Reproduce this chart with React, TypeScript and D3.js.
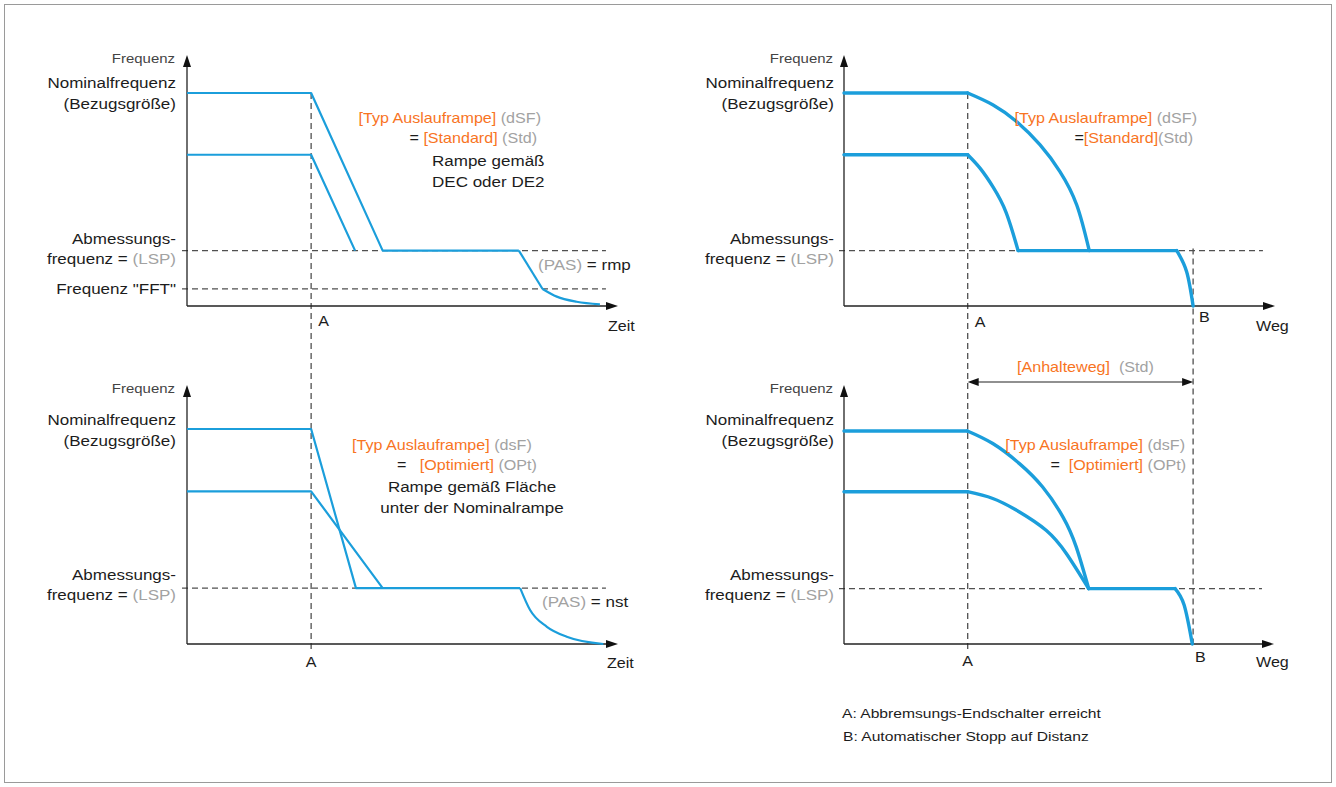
import React from 'react';
import * as d3 from 'd3';

// levels of the frequency axis, in % of nominal frequency
const LEVEL_NOMINAL = 100;
const LEVEL_REDUCED = 71;
const LEVEL_LSP = 26;
const LEVEL_FFT = 8;

// switch positions on the time / distance axes (% of axis length)
const POS_A_TIME = 28.8;
const POS_A_DIST = 28.7;
const POS_B_DIST = 81;
const DASH_END = 97.2;

// top left: [Standard], PAS = rmp
const stdNominal = [[0, 100], [28.8, 100], [45.4, 26], [77, 26]];
const stdReduced = [[0, LEVEL_REDUCED], [28.8, LEVEL_REDUCED], [39, 26]];
const stdTailRamp = [[77, 26], [82.5, 8]];
const stdTailCurve = [[82.5, 8], [85.8, 4.4], [90.4, 2], [95.8, 0.8]];

// bottom left: [Optimiert], PAS = nst
const optNominal = [[0, 100], [28.8, 100], [39.2, 26], [77.3, 26]];
const optReduced = [[0, LEVEL_REDUCED], [28.8, LEVEL_REDUCED], [45.4, 26]];
const optTail = [[77.3, 26], [79.6, 15.8], [83.5, 8], [88.1, 3.4], [96.6, 0]];

// top right: distance, [Standard]
const dStdFlatNominal = [[0, 100], [28.7, 100]];
const dStdFlatReduced = [[0, 71], [28.7, 71]];
const dStdCurveNominal = [[28.7, 100], [34.6, 94.4], [40.1, 86.5], [45.5, 75.6], [50.1, 63.1], [54, 47.4], [56.9, 26]];
const dStdCurveReduced = [[28.7, 71], [31.6, 64.6], [34.6, 55.8], [37.6, 44], [40.4, 26]];
const dStdFlatLsp = [[40.4, 26], [77.2, 26]];
const dStdTail = [[77.2, 26], [79.5, 16.1], [81, 0]];

// bottom right: distance, [Optimiert]
const dOptFlatNominal = [[0, 100], [28.7, 100]];
const dOptFlatReduced = [[0, 71.5], [28.7, 71.5]];
const dOptCurveNominal = [[28.7, 100], [34.6, 94.1], [40.8, 84.7], [46.2, 73.7], [50.9, 59.7], [54, 45.6], [56.9, 26]];
const dOptCurveReduced = [[28.7, 71.5], [34.6, 68.3], [40.8, 62], [47, 53.4], [51.7, 42.5], [56.9, 26]];
const dOptFlatLsp = [[56.9, 26], [77, 26]];
const dOptTail = [[77, 26], [79.1, 18.3], [81, 0]];

const BLUE = '#1b9edb';
const ORANGE = '#f8741f';
const CODE = '#a2a2a2';
const INK = '#1c1c1c';
const DASH = '#505050';
const SX = 1.15;
const FONT = '"Liberation Sans", Arial, sans-serif';

type P = number[];

function T({ x, y, anchor = 'start', size = 14.8, fill = INK, children }: any) {
  return (
    <text transform={`translate(${x},${y}) scale(${SX},1)`} textAnchor={anchor} fontSize={size} fill={fill}
      fontFamily={FONT} style={{ whiteSpace: 'pre' }}>
      {children}
    </text>
  );
}

function mk(x0: number, xTip: number, yBase: number, yNom: number, yTip: number) {
  const x = d3.scaleLinear().domain([0, 100]).range([x0, xTip]);
  const y = d3.scaleLinear().domain([0, 100]).range([yBase, yNom]);
  return { x, y, x0, xTip, yBase, yTip };
}

const tl = mk(187, 618, 306, 93, 55);
const bl = mk(187, 618, 644, 429, 385);
const tr = mk(844, 1275, 306, 93, 55);
const br = mk(844, 1274, 644, 431, 385);

function Axes({ p }: any) {
  const { x0, xTip, yBase, yTip } = p;
  return (
    <g>
      <line x1={x0} y1={yBase} x2={x0} y2={yTip + 8} stroke="#222" strokeWidth={1.3} />
      <path d={`M${x0},${yTip} L${x0 - 4},${yTip + 12} L${x0 + 4},${yTip + 12} Z`} fill="#111" />
      <line x1={x0} y1={yBase} x2={xTip - 8} y2={yBase} stroke="#222" strokeWidth={1.3} />
      <path d={`M${xTip},${yBase} L${xTip - 12},${yBase - 4} L${xTip - 12},${yBase + 4} Z`} fill="#111" />
    </g>
  );
}

function HDash({ p, level }: any) {
  return <line x1={p.x0 - 5} x2={p.x(DASH_END)} y1={p.y(level)} y2={p.y(level)}
    stroke={DASH} strokeWidth={1.3} strokeDasharray="6 4" />;
}

function YLabels({ right, yFreq, yNom, yAbm }: any) {
  return (
    <g>
      <T x={right - 1} y={yFreq} anchor="end" size={13} fill="#444">Frequenz</T>
      <T x={right} y={yNom} anchor="end">Nominalfrequenz</T>
      <T x={right} y={yNom + 21} anchor="end">(Bezugsgröße)</T>
      <T x={right} y={yAbm} anchor="end">Abmessungs-</T>
      <T x={right} y={yAbm + 20} anchor="end">frequenz = <tspan fill={CODE}>(LSP)</tspan></T>
    </g>
  );
}

export default function App() {
  const path = (p: any, data: P[], curve: any = d3.curveLinear) =>
    d3.line<P>().x(d => p.x(d[0])).y(d => p.y(d[1])).curve(curve)(data) || '';

  const thin = { fill: 'none', stroke: BLUE, strokeWidth: 2.2, strokeLinejoin: 'round' as const };
  const thick = { fill: 'none', stroke: BLUE, strokeWidth: 3.4, strokeLinejoin: 'round' as const, strokeLinecap: 'round' as const };

  const aLeftX = tl.x(POS_A_TIME);
  const aRightX = tr.x(POS_A_DIST);
  const bRightX = tr.x(POS_B_DIST);
  const arrowY = 382;

  return (
    <svg width={1336} height={787} style={{ position: 'absolute', left: 0, top: 0, background: '#fff' }}>
      <rect x={4.5} y={4.5} width={1327} height={778} fill="none" stroke="#9a9a9a" strokeWidth={1} />

      {/* dashed guides */}
      <HDash p={tl} level={LEVEL_LSP} />
      <HDash p={tl} level={LEVEL_FFT} />
      <HDash p={bl} level={LEVEL_LSP} />
      <HDash p={tr} level={LEVEL_LSP} />
      <HDash p={br} level={LEVEL_LSP} />
      <line x1={aLeftX} x2={aLeftX} y1={tl.y(LEVEL_NOMINAL)} y2={bl.y(0) + 6} stroke={DASH} strokeWidth={1.3} strokeDasharray="6 4" />
      <line x1={aRightX} x2={aRightX} y1={tr.y(LEVEL_NOMINAL)} y2={br.y(0) + 6} stroke={DASH} strokeWidth={1.3} strokeDasharray="6 4" />
      <line x1={bRightX} x2={bRightX} y1={tr.y(LEVEL_LSP) - 2} y2={br.y(0)} stroke={DASH} strokeWidth={1.3} strokeDasharray="6 4" />

      {[tl, bl, tr, br].map((p, i) => <Axes key={i} p={p} />)}

      {/* top left */}
      <path d={path(tl, stdNominal)} {...thin} />
      <path d={path(tl, stdReduced)} {...thin} />
      <path d={path(tl, stdTailRamp)} {...thin} />
      <path d={path(tl, stdTailCurve, d3.curveMonotoneX)} {...thin} />
      <YLabels right={176} yFreq={63} yNom={88} yAbm={244} />
      <T x={176} y={294} anchor="end">Frequenz "FFT"</T>
      <T x={aLeftX + 7} y={326} size={14}>A</T>
      <T x={608} y={331} size={14}>Zeit</T>
      <T x={538} y={270}><tspan fill={CODE}>(PAS)</tspan> = rmp</T>
      <T x={541} y={123} anchor="end" size={14}><tspan fill={ORANGE}>[Typ Auslauframpe]</tspan><tspan fill={CODE}> (dSF)</tspan></T>
      <T x={537} y={143} anchor="end" size={14}>= <tspan fill={ORANGE}>[Standard]</tspan><tspan fill={CODE}> (Std)</tspan></T>
      <T x={432} y={166}>Rampe gemäß</T>
      <T x={432} y={187}>DEC oder DE2</T>

      {/* bottom left */}
      <path d={path(bl, optNominal)} {...thin} />
      <path d={path(bl, optReduced)} {...thin} />
      <path d={path(bl, optTail, d3.curveMonotoneX)} {...thin} />
      <YLabels right={176} yFreq={393} yNom={425} yAbm={580} />
      <T x={aLeftX} y={667} anchor="middle" size={14}>A</T>
      <T x={607} y={668} size={14}>Zeit</T>
      <T x={542} y={607}><tspan fill={CODE}>(PAS)</tspan> = nst</T>
      <T x={352} y={450} size={14}><tspan fill={ORANGE}>[Typ Auslauframpe]</tspan><tspan fill={CODE}> (dsF)</tspan></T>
      <T x={397} y={470} size={14}>=   <tspan fill={ORANGE}>[Optimiert]</tspan><tspan fill={CODE}> (OPt)</tspan></T>
      <T x={472} y={492} anchor="middle">Rampe gemäß Fläche</T>
      <T x={472} y={513} anchor="middle">unter der Nominalrampe</T>

      {/* top right */}
      <path d={path(tr, dStdFlatNominal)} {...thick} />
      <path d={path(tr, dStdFlatReduced)} {...thick} />
      <path d={path(tr, dStdCurveNominal, d3.curveNatural)} {...thick} />
      <path d={path(tr, dStdCurveReduced, d3.curveNatural)} {...thick} />
      <path d={path(tr, dStdFlatLsp)} {...thick} />
      <path d={path(tr, dStdTail, d3.curveNatural)} {...thick} />
      <YLabels right={834} yFreq={63} yNom={88} yAbm={244} />
      <T x={aRightX + 7} y={327} size={14}>A</T>
      <T x={bRightX + 6} y={322} size={14}>B</T>
      <T x={1256} y={331} size={14}>Weg</T>
      <T x={1197} y={123} anchor="end" size={14}><tspan fill={ORANGE}>[Typ Auslauframpe]</tspan><tspan fill={CODE}> (dSF)</tspan></T>
      <T x={1193} y={143} anchor="end" size={14}>=<tspan fill={ORANGE}>[Standard]</tspan><tspan fill={CODE}>(Std)</tspan></T>

      {/* bottom right */}
      <path d={path(br, dOptFlatNominal)} {...thick} />
      <path d={path(br, dOptFlatReduced)} {...thick} />
      <path d={path(br, dOptCurveNominal, d3.curveNatural)} {...thick} />
      <path d={path(br, dOptCurveReduced, d3.curveNatural)} {...thick} />
      <path d={path(br, dOptFlatLsp)} {...thick} />
      <path d={path(br, dOptTail, d3.curveNatural)} {...thick} />
      <YLabels right={834} yFreq={393} yNom={425} yAbm={580} />
      <T x={aRightX} y={666} anchor="middle" size={14}>A</T>
      <T x={bRightX + 2} y={662} size={14}>B</T>
      <T x={1256} y={667} size={14}>Weg</T>
      <T x={1185} y={450} anchor="end" size={14}><tspan fill={ORANGE}>[Typ Auslauframpe]</tspan><tspan fill={CODE}> (dsF)</tspan></T>
      <T x={1186} y={470} anchor="end" size={14}>=  <tspan fill={ORANGE}>[Optimiert]</tspan><tspan fill={CODE}> (OPt)</tspan></T>

      {/* stopping distance */}
      <line x1={aRightX + 8} x2={bRightX - 8} y1={arrowY} y2={arrowY} stroke="#222" strokeWidth={1.2} />
      <path d={`M${aRightX},${arrowY} L${aRightX + 11},${arrowY - 4} L${aRightX + 11},${arrowY + 4} Z`} fill="#111" />
      <path d={`M${bRightX},${arrowY} L${bRightX - 11},${arrowY - 4} L${bRightX - 11},${arrowY + 4} Z`} fill="#111" />
      <T x={1017} y={372} size={14}><tspan fill={ORANGE}>[Anhalteweg]</tspan><tspan fill={CODE}>  (Std)</tspan></T>

      {/* footnotes */}
      <T x={842} y={718} size={13.6}>A: Abbremsungs-Endschalter erreicht</T>
      <T x={843} y={741} size={13.6}>B: Automatischer Stopp auf Distanz</T>
    </svg>
  );
}
